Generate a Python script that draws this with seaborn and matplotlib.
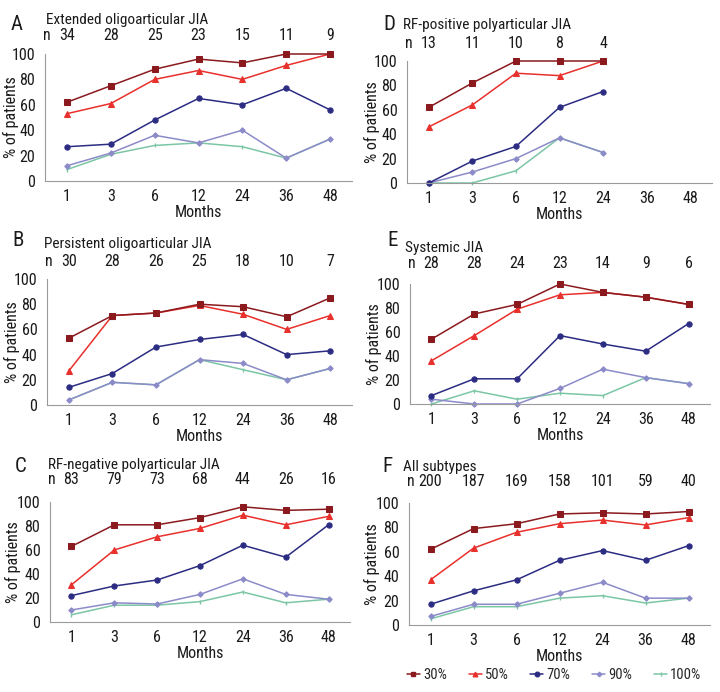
import numpy as np
import pandas as pd
import matplotlib
matplotlib.use("Agg")
import matplotlib.pyplot as plt
import matplotlib.transforms as mtrans
from matplotlib import font_manager
import seaborn as sns

sns.set_theme(style="white")
cands = ['DejaVu Sans Condensed', 'Roboto Condensed', 'Liberation Sans Narrow',
         'Open Sans Condensed', 'Roboto', 'DejaVu Sans']
avail = []
for c in cands:
    try:
        font_manager.findfont(font_manager.FontProperties(family=c), fallback_to_default=False)
        avail.append(c)
    except Exception:
        pass
plt.rcParams['font.family'] = avail[:1] + ['DejaVu Sans']

months = ["1", "3", "6", "12", "24", "36", "48"]
levels = ["30%", "50%", "70%", "90%", "100%"]

a_n = [34, 28, 25, 23, 15, 11, 9]
a_30 = [62, 75, 88, 96, 93, 100, 100]
a_50 = [53, 61, 80, 87, 80, 91, 100]
a_70 = [27, 29, 48, 65, 60, 73, 56]
a_90 = [12, 22, 36, 30, 40, 18, 33]
a_100 = [9, 21, 28, 30, 27, 18, 33]

b_n = [30, 28, 26, 25, 18, 10, 7]
b_30 = [53, 71, 73, 80, 78, 70, 85]
b_50 = [27, 71, 73, 79, 72, 60, 71]
b_70 = [14, 25, 46, 52, 56, 40, 43]
b_90 = [4, 18, 16, 36, 33, 20, 29]
b_100 = [4, 18, 16, 36, 28, 20, 29]

c_n = [83, 79, 73, 68, 44, 26, 16]
c_30 = [63, 81, 81, 87, 96, 93, 94]
c_50 = [31, 60, 71, 78, 89, 81, 88]
c_70 = [22, 30, 35, 47, 64, 54, 81]
c_90 = [10, 16, 15, 23, 36, 23, 19]
c_100 = [6, 14, 14, 17, 25, 16, 19]

d_n = [13, 11, 10, 8, 4]
d_30 = [62, 82, 100, 100, 100]
d_50 = [46, 64, 90, 88, 100]
d_70 = [0, 18, 30, 62, 75]
d_90 = [0, 9, 20, 37, 25]
d_100 = [0, 0, 10, 37, 25]

e_n = [28, 28, 24, 23, 14, 9, 6]
e_30 = [54, 75, 83, 100, 93, 89, 83]
e_50 = [36, 57, 79, 91, 93, 89, 83]
e_70 = [7, 21, 21, 57, 50, 44, 67]
e_90 = [4, 0, 0, 13, 29, 22, 17]
e_100 = [0, 11, 4, 9, 7, 22, 17]

f_n = [200, 187, 169, 158, 101, 59, 40]
f_30 = [62, 79, 83, 91, 92, 91, 93]
f_50 = [37, 63, 76, 83, 86, 82, 88]
f_70 = [17, 28, 37, 53, 61, 53, 65]
f_90 = [7, 17, 17, 26, 35, 22, 22]
f_100 = [5, 15, 15, 22, 24, 18, 22]

panels = [
    ("A", "Extended oligoarticular JIA", a_n, [a_30, a_50, a_70, a_90, a_100]),
    ("B", "Persistent oligoarticular JIA", b_n, [b_30, b_50, b_70, b_90, b_100]),
    ("C", "RF-negative polyarticular JIA", c_n, [c_30, c_50, c_70, c_90, c_100]),
    ("D", "RF-positive polyarticular JIA", d_n, [d_30, d_50, d_70, d_90, d_100]),
    ("E", "Systemic JIA", e_n, [e_30, e_50, e_70, e_90, e_100]),
    ("F", "All subtypes", f_n, [f_30, f_50, f_70, f_90, f_100]),
]

palette = {"30%": "#8B1A1F", "50%": "#E8302C", "70%": "#2B2C82",
           "90%": "#8C8BC9", "100%": "#7CC6A6"}
markers = {"30%": "s", "50%": "^", "70%": "o", "90%": "D", "100%": "P"}
final_markers = {"30%": "s", "50%": "^", "70%": "o", "90%": "D", "100%": "|"}
msizes = {"30%": 4, "50%": 3.8, "70%": 3.8, "90%": 2.8, "100%": 3.5}

W, H = 720, 692
boxes = {
    "A": dict(box=(45, 352, 54, 181), ylab=11, letter=(17, 25), title=(46, 20), ny=35),
    "B": dict(box=(47, 352, 279, 405), ylab=12, letter=(18, 240), title=(44, 244), ny=261),
    "C": dict(box=(50, 350, 502, 622), ylab=13, letter=(21, 466), title=(48, 465), ny=480),
    "D": dict(box=(407, 712, 61, 183), ylab=372, letter=(389, 25), title=(403, 25), ny=43),
    "E": dict(box=(410, 710, 284, 404), ylab=374, letter=(393, 240), title=(405, 248), ny=263),
    "F": dict(box=(409, 710, 503, 625), ylab=372, letter=(387, 467), title=(403, 467), ny=482),
}

fs = 10.5
fig = plt.figure(figsize=(7.2, 6.92), dpi=100)
grey = "#9a9a9a"
ink = "#1a1a1a"

for letter, title, nvals, series in panels:
    cfg = boxes[letter]
    l, r, t, b = cfg["box"]
    ax = fig.add_axes([l / W, 1 - b / H, (r - l) / W, (b - t) / H])
    rows = []
    for lev, vals in zip(levels, series):
        for i, v in enumerate(vals):
            rows.append({"pos": i, "month": months[i], "val": v, "level": lev})
    df = pd.DataFrame(rows)
    sns.lineplot(data=df, x="pos", y="val", hue="level", style="level",
                 hue_order=levels[::-1], style_order=levels[::-1],
                 palette=palette, markers=markers, dashes=False,
                 linewidth=1.1, ax=ax, legend=False)
    for line, lev in zip(ax.lines, levels[::-1]):
        line.set_marker(final_markers[lev])
        line.set_markeredgecolor(palette[lev])
        line.set_markerfacecolor(palette[lev])
        line.set_markersize(msizes[lev])
        line.set_clip_on(False)
        if lev == "100%":
            line.set_markeredgewidth(1.0)
    ax.set_xlim(-0.5, 6.5)
    ax.set_ylim(0, 100)
    ax.set_yticks([0, 20, 40, 60, 80, 100])
    ax.set_xticks(range(7))
    ax.set_xticklabels(months)
    ax.set_xticks(np.arange(0.5, 6.5, 1), minor=True)
    ax.tick_params(axis="x", which="major", length=0, labelsize=fs + 1, pad=6, colors=ink)
    ax.tick_params(axis="x", which="minor", length=4, direction="in", color=grey, width=0.8)
    ax.tick_params(axis="y", which="major", length=4, direction="out", color=grey, width=0.8,
                   labelsize=fs + 1, pad=3, labelcolor=ink)
    ax.set_xlabel("Months", fontsize=fs + 1, color=ink)
    ax.xaxis.set_label_coords(0.5, -24 / (b - t))
    ax.set_ylabel("% of patients", fontsize=fs + 1, color=ink)
    ax.yaxis.set_label_coords((cfg["ylab"] - l) / (r - l), 0.5)
    ax.yaxis.label.set_verticalalignment("center")
    for side in ["top", "right"]:
        ax.spines[side].set_visible(False)
    for side in ["left", "bottom"]:
        ax.spines[side].set_color(grey)
        ax.spines[side].set_linewidth(0.8)
    ax.grid(False)
    ax.set_facecolor("none")

    lx, ly = cfg["letter"]
    fig.text(lx / W, 1 - ly / H, letter, fontsize=15, ha="center", va="center", color=ink)
    tx, ty = cfg["title"]
    fig.text(tx / W, 1 - ty / H, title, fontsize=fs + 0.5, ha="left", va="center", color=ink)
    trans = mtrans.blended_transform_factory(ax.transData, fig.transFigure)
    ny = 1 - cfg["ny"] / H
    ax.text(-0.45, ny, "n", transform=trans, fontsize=fs + 1, ha="center", va="center", color=ink)
    for i, nv in enumerate(nvals):
        ax.text(i, ny, str(nv), transform=trans, fontsize=fs + 1, ha="center", va="center", color=ink)

from matplotlib.lines import Line2D
handles = [Line2D([], [], color=palette[lev], marker=final_markers[lev], markersize=msizes[lev] - 0.5,
                  markerfacecolor=palette[lev], markeredgecolor=palette[lev], linewidth=1.1)
           for lev in levels]
fig.legend(handles, levels, loc="center", bbox_to_anchor=(554 / W, 1 - 675 / H), ncol=5,
           frameon=False, fontsize=fs, handlelength=0.9, handletextpad=0.2, columnspacing=1.5,
           borderaxespad=0, borderpad=0)

fig.savefig("out.png", dpi=100, facecolor="white")
